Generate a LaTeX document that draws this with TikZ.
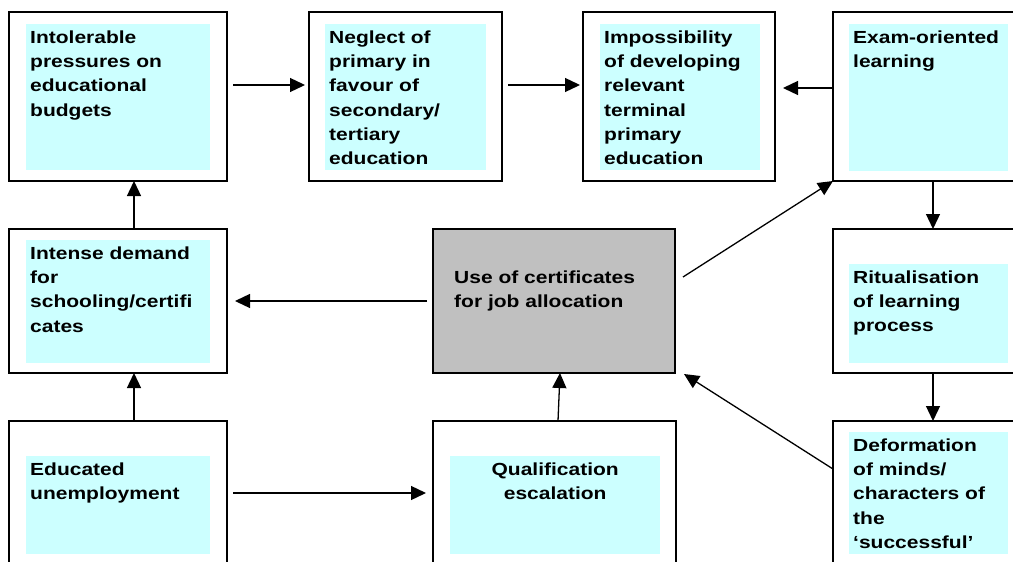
\documentclass[tikz,border=0pt]{standalone}
\usepackage{fontspec}
\setmainfont{Liberation Sans}[FakeStretch=1.2]
\usetikzlibrary{arrows.meta}
\definecolor{boxcyan}{RGB}{204,255,255}
\definecolor{boxgray}{RGB}{192,192,192}
\newcommand{\boxfont}{\fontsize{17.5}{24.3}\selectfont\bfseries}
\newcommand{\boxtxt}[4][\raggedright]{\parbox[c][#3][t]{#2}{#1\strut #4}}
\tikzset{
  outbox/.style={draw, line width=1.6pt, anchor=north west, inner sep=0pt, outer sep=0pt},
  inbox/.style={fill=boxcyan, anchor=north west, inner xsep=4pt, inner ysep=2pt, font=\boxfont},
  conn/.style={line width=1.3pt, -{Triangle[length=15pt,width=14pt]}}
}

\begin{document}
\begin{tikzpicture}[x=1pt, y=-1pt]
      \useasboundingbox (0,0) rectangle (1013,562);
      \clip (0,0) rectangle (1013,562);

      % outer frames
      \node [outbox, minimum width=218pt, minimum height=169pt] (budgets) at (9,12) {};
      \node [outbox, minimum width=193pt, minimum height=169pt] (neglect) at (309,12) {};
      \node [outbox, minimum width=192pt, minimum height=169pt] (impossible) at (583,12) {};
      \node [outbox, minimum width=200pt, minimum height=169pt] (exam) at (833,12) {};
      \node [outbox, minimum width=218pt, minimum height=144pt] (demand) at (9,229) {};
      \node [outbox, fill=boxgray, minimum width=242pt, minimum height=144pt] (certs) at (433,229) {};
      \node [outbox, minimum width=200pt, minimum height=144pt] (ritual) at (833,229) {};
      \node [outbox, minimum width=218pt, minimum height=169pt] (unemp) at (9,421) {};
      \node [outbox, minimum width=243pt, minimum height=169pt] (qualif) at (433,421) {};
      \node [outbox, minimum width=200pt, minimum height=169pt] (deform) at (833,421) {};

      % texts
      \node [inbox] (budgets-t) at (26,24) {\boxtxt{176pt}{142pt}{Intolerable\\pressures on\\educational\\budgets}};
      \node [inbox] (neglect-t) at (325,24) {\boxtxt{153pt}{142pt}{Neglect of\\primary in\\favour of\\secondary/\\tertiary\\education}};
      \node [inbox] (impossible-t) at (600,24) {\boxtxt{152pt}{142pt}{Impossibility\\of developing\\relevant\\terminal\\primary\\education}};
      \node [inbox] (exam-t) at (849,24) {\boxtxt{151pt}{143pt}{Exam-oriented\\learning}};
      \node [inbox] (demand-t) at (26,240) {\boxtxt{176pt}{119pt}{Intense demand\\for\\schooling/certifi\\cates}};
      \node [inbox, fill=none] (certs-t) at (450,264) {\boxtxt{196pt}{56pt}{Use of certificates\\for job allocation}};
      \node [inbox] (ritual-t) at (849,264) {\boxtxt{151pt}{95pt}{Ritualisation\\of learning\\process}};
      \node [inbox] (unemp-t) at (26,456) {\boxtxt{176pt}{94pt}{Educated\\unemployment}};
      \node [inbox] (qualif-t) at (450,456) {\boxtxt[\centering]{202pt}{94pt}{Qualification\\escalation}};
      \node [inbox] (deform-t) at (849,432) {\boxtxt{151pt}{118pt}{Deformation\\of minds/\\characters of\\the\\`successful'}};

      % connectors
      \draw [conn] ([shift={(6,-11.5)}]budgets.east) -- ([shift={(-4,-11.5)}]neglect.west);
      \draw [conn] ([shift={(6,-11.5)}]neglect.east) -- ([shift={(-3,-11.5)}]impossible.west);
      \draw [conn] ([shift={(0,-8.5)}]exam.west) -- ([shift={(8,-8.5)}]impossible.east);
      \draw [conn] (exam.south) -- (ritual.north);
      \draw [conn] (ritual.south) -- (deform.north);
      \draw [conn] ([shift={(16,0)}]demand.north) -- ([shift={(16,0)}]budgets.south);
      \draw [conn] ([shift={(16,0)}]unemp.north) -- ([shift={(16,0)}]demand.south);
      \draw [conn] ([shift={(-6,0)}]certs.west) -- ([shift={(8,0)}]demand.east);
      \draw [conn] ([shift={(6,-12.5)}]unemp.east) -- ([shift={(-7,-12.5)}]qualif.west);
      \draw [conn] ([shift={(3.5,0)}]qualif.north) -- ([shift={(6,0)}]certs.south);
      \draw [conn] ([shift={(8,-24)}]certs.east) -- (exam.south west);
      \draw [conn] ([shift={(0,48)}]deform.north west) -- ([shift={(9,1)}]certs.south east);
    \end{tikzpicture}
\end{document}
